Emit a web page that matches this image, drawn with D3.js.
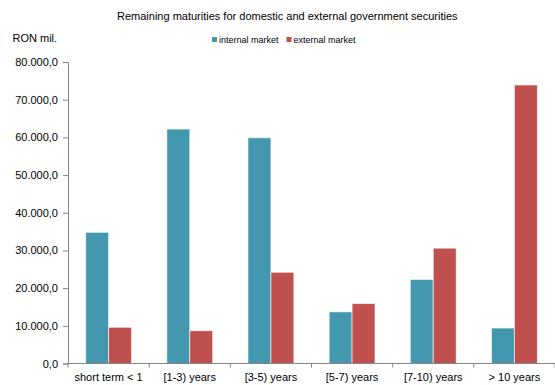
<!DOCTYPE html>
<html>
<head>
<meta charset="utf-8">
<script src="https://cdn.jsdelivr.net/npm/d3@7"></script>
<style>
  body { margin: 0; background: #fff; }
  text { font-family: "Liberation Sans", Arial, sans-serif; fill: #000; }
</style>
</head>
<body>
<svg width="555" height="385"></svg>
<script>
const categories = ['short term < 1', '[1-3) years', '[3-5) years', '[5-7) years', '[7-10) years', '> 10 years'];
const seriesNames = ['internal market', 'external market'];
const internalMarket = [34800, 62200, 59900, 13700, 22300, 9400];
const externalMarket = [9600, 8700, 24200, 15900, 30600, 73900];
const yTicks = [0, 10000, 20000, 30000, 40000, 50000, 60000, 70000, 80000];
const colors = ['#4398b0', '#c0504d'];

const rows = categories.map((c, i) => ({ cat: c, values: [internalMarket[i], externalMarket[i]] }));

const margin = { top: 62, left: 68, right: 0, bottom: 21 };
const svg = d3.select('svg');

const x = d3.scaleBand()
  .domain(categories)
  .range([margin.left, 555])
  .paddingInner(0.435)
  .paddingOuter(0.2175);

const xs = d3.scaleBand()
  .domain([0, 1])
  .range([0, x.bandwidth()]);

const y = d3.scaleLinear()
  .domain([0, 80000])
  .range([363.5, 62]);

// 80.000,0 style numbers
const fmt = d => d3.format(',.1f')(d).replace(/,/g, 'X').replace('.', ',').replace(/X/g, '.');

// title
svg.append('text')
  .attr('x', 117)
  .attr('y', 20)
  .style('font-size', '11px')
  .text('Remaining maturities for domestic and external government securities');

svg.append('text')
  .attr('x', 12.5)
  .attr('y', 42)
  .style('font-size', '11px')
  .text('RON mil.');

// legend
const legendX = [212, 286.5];
seriesNames.forEach((name, i) => {
  svg.append('rect')
    .attr('x', legendX[i])
    .attr('y', 37)
    .attr('width', 5)
    .attr('height', 5)
    .attr('fill', colors[i]);
  svg.append('text')
    .attr('x', legendX[i] + 7)
    .attr('y', 42.5)
    .style('font-size', '9px')
    .text(name);
});

// bars
const group = svg.append('g').selectAll('g')
  .data(rows)
  .join('g')
    .attr('transform', d => `translate(${x(d.cat)},0)`);

group.selectAll('rect')
  .data(d => d.values.map((v, i) => ({ v, i })))
  .join('rect')
    .attr('x', d => xs(d.i))
    .attr('y', d => y(d.v))
    .attr('width', xs.bandwidth())
    .attr('height', d => y(0) - y(d.v))
    .attr('fill', d => colors[d.i])
    .attr('stroke', '#fff')
    .attr('stroke-opacity', 0.6)
    .attr('stroke-width', 1);

// y axis
const yAxis = svg.append('g')
  .attr('transform', `translate(${margin.left},0)`)
  .call(d3.axisLeft(y).tickValues(yTicks).tickFormat(fmt).tickSize(5).tickPadding(5));
yAxis.select('.domain').attr('stroke', '#868686');
yAxis.selectAll('.tick line').attr('stroke', '#868686');
yAxis.selectAll('.tick text').style('font-size', '11px').style('fill', '#000');

// x axis
const bounds = d3.range(categories.length + 1).map(i => x.range()[0] + i * x.step());
const xAxis = svg.append('g');
xAxis.append('line')
  .attr('x1', margin.left)
  .attr('x2', 555)
  .attr('y1', y(0))
  .attr('y2', y(0))
  .attr('stroke', '#868686');
xAxis.selectAll('line.tk')
  .data(bounds)
  .join('line')
    .attr('class', 'tk')
    .attr('x1', d => d)
    .attr('x2', d => d)
    .attr('y1', y(0))
    .attr('y2', y(0) + 4)
    .attr('stroke', '#868686');
xAxis.selectAll('text')
  .data(categories)
  .join('text')
    .attr('x', d => x(d) + x.bandwidth() / 2)
    .attr('y', 381)
    .attr('text-anchor', 'middle')
    .style('font-size', '11px')
    .text(d => d);
</script>
</body>
</html>
